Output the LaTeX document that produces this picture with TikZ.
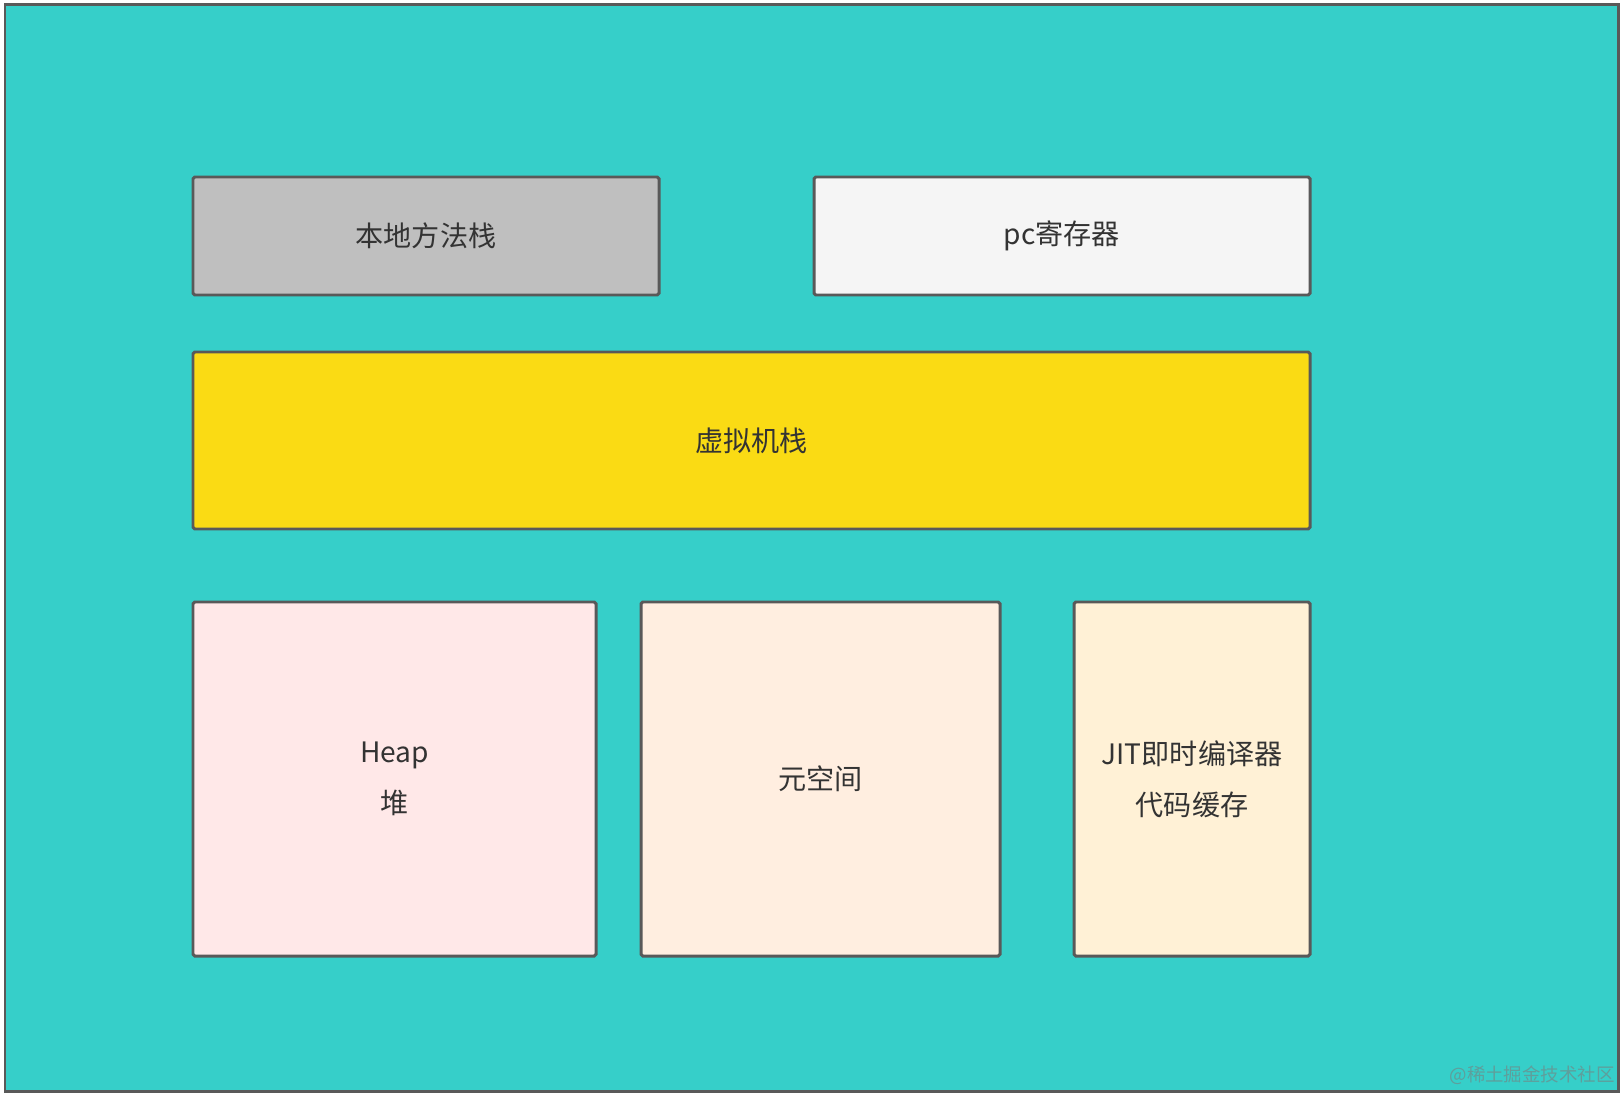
\documentclass[tikz,border=0pt]{standalone}
\usepackage{fontspec}
\setmainfont{Noto Sans CJK SC}
\usepackage{xcolor}
\usetikzlibrary{positioning}

\definecolor{bgteal}{HTML}{36CFC9}
\definecolor{edgegray}{HTML}{595959}
\definecolor{txtgray}{HTML}{333333}
\definecolor{nativegray}{HTML}{BFBFBF}
\definecolor{pcwhite}{HTML}{F5F5F5}
\definecolor{vmyellow}{HTML}{FADB14}
\definecolor{heappink}{HTML}{FFE8E8}
\definecolor{metapeach}{HTML}{FFEEE0}
\definecolor{jitcream}{HTML}{FFF1D6}
\definecolor{markgray}{HTML}{5E9F9C}

\begin{document}
\begin{tikzpicture}[
    area/.style={draw=edgegray, line width=1.7pt, fill=bgteal},
    box/.style={draw=edgegray, line width=1.7pt, rounded corners=1pt, inner sep=0pt, outer sep=0pt,
        align=center, text=txtgray, font=\fontsize{16}{29}\selectfont},
    wmark/.style={text=markgray, font=\fontsize{10.5}{12}\selectfont, inner sep=0pt}
]
    \useasboundingbox (0,0) rectangle (32.48,-21.92);

    % Background
    \draw[area] (0.1,-0.1) rectangle (32.36,-21.82);

    % Top row
    \node[box, fill=nativegray, minimum width=9.32cm, minimum height=2.36cm] (native) at (8.52,-4.72) {本地方法栈};
    \node[box, fill=pcwhite, minimum width=9.92cm, minimum height=2.36cm, right=3.1cm of native] (pc) {pc寄存器};

    % VM stack
    \node[box, fill=vmyellow, minimum width=22.34cm, minimum height=3.54cm,
        below right=1.14cm and 0cm of native.south west] (vmstack) {虚拟机栈};

    % Bottom row
    \node[box, fill=heappink, minimum width=8.06cm, minimum height=7.08cm,
        below right=1.46cm and 0cm of vmstack.south west] (heap) {Heap\\堆};
    \node[box, fill=metapeach, minimum width=7.18cm, minimum height=7.08cm, right=0.9cm of heap] (meta) {元空间};
    \node[box, fill=jitcream, minimum width=4.72cm, minimum height=7.08cm, right=1.48cm of meta] (jit) {JIT即时编译器\\代码缓存};

    % Watermark
    \node[wmark, anchor=east] (wm) at (32.3,-21.5) {@稀土掘金技术社区};
\end{tikzpicture}
\end{document}
